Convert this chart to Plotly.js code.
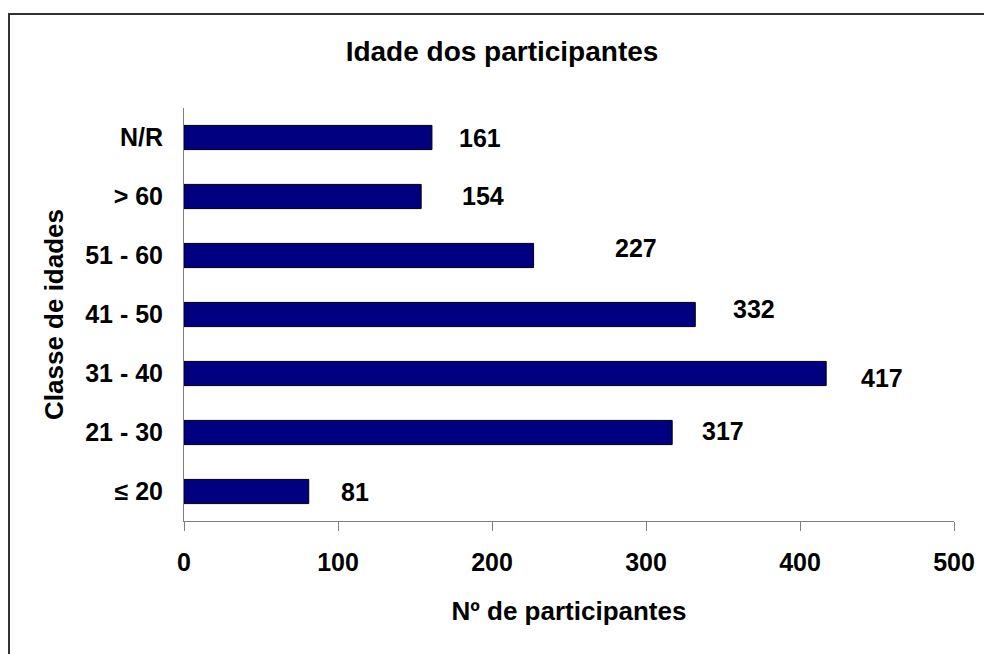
<!DOCTYPE html>
<html>
<head>
<meta charset="utf-8">
<script src="https://cdn.plot.ly/plotly-3.0.1.min.js"></script>
<style>
  html, body { margin: 0; padding: 0; background: #fff; }
  #chart { width: 984px; height: 654px; }
</style>
</head>
<body>
<div id="chart"></div>
<script>
// ---- data ----
const categories = ['≤ 20', '21 - 30', '31 - 40', '41 - 50', '51 - 60', '> 60', 'N/R'];
const participants = [81, 317, 417, 332, 227, 154, 161];
const xTickVals = [0, 100, 200, 300, 400, 500];
const xTickText = ['0', '100', '200', '300', '400', '500'];

// ---- label placement (style, pixels) ----
const labelShiftX = [46, 51, 56, 59, 102, 62, 48];
const labelShiftY = [0, 2, -4, 6, 8, 1, 0];

const W = 984, H = 654;
const M = { l: 184, r: 30, t: 108, b: 133 };
const plotW = W - M.l - M.r, plotH = H - M.t - M.b;
const px2paperX = px => (px - M.l) / plotW;
const px2paperY = py => (H - M.b - py) / plotH;

const FONT = 'Liberation Sans, Arial, sans-serif';

const trace = {
  type: 'bar',
  orientation: 'h',
  x: participants,
  y: categories,
  marker: { color: '#000080', line: { color: '#000000', width: 1 } },
  hoverinfo: 'x+y'
};

const annotations = participants.map((v, i) => ({
  x: v, y: categories[i], xref: 'x', yref: 'y',
  text: String(v), showarrow: false,
  xanchor: 'center', yanchor: 'middle',
  xshift: labelShiftX[i], yshift: labelShiftY[i],
  font: { family: FONT, size: 25, color: '#000', weight: 'bold' }
}));

// outer frame (only top & left edges visible in the picture)
const frame = {
  type: 'path', xref: 'paper', yref: 'paper',
  path: `M ${px2paperX(9)} ${px2paperY(H + 10)} L ${px2paperX(9)} ${px2paperY(14)} L ${px2paperX(W + 10)} ${px2paperY(14)}`,
  line: { color: '#333333', width: 2 }
};

const layout = {
  width: W, height: H,
  margin: M,
  paper_bgcolor: '#ffffff',
  plot_bgcolor: '#ffffff',
  showlegend: false,
  bargap: 0.59,
  font: { family: FONT, color: '#000' },
  title: {
    text: 'Idade dos participantes',
    x: 502 / W, xref: 'container', xanchor: 'center',
    y: 1 - 51 / H, yref: 'container', yanchor: 'middle',
    font: { family: FONT, size: 28, color: '#000', weight: 'bold' }
  },
  xaxis: {
    range: [0, 500],
    tickmode: 'array', tickvals: xTickVals, ticktext: xTickText,
    showline: true, linecolor: '#808080', linewidth: 1,
    ticks: 'outside', ticklen: 9, tickcolor: '#808080', tickwidth: 1,
    ticklabelstandoff: 10,
    showgrid: false, zeroline: false,
    tickfont: { family: FONT, size: 25, color: '#000', weight: 'bold' },
    automargin: false,
    title: {
      text: 'Nº de participantes', standoff: 26,
      font: { family: FONT, size: 26, color: '#000', weight: 'bold' }
    }
  },
  yaxis: {
    type: 'category',
    categoryorder: 'array', categoryarray: categories,
    range: [-0.5, categories.length - 0.5],
    showline: true, linecolor: '#808080', linewidth: 1,
    ticks: '', showgrid: false, zeroline: false,
    ticklabelstandoff: 15,
    tickfont: { family: FONT, size: 25, color: '#000', weight: 'bold' },
    automargin: false,
    title: {
      text: 'Classe de idades', standoff: 14,
      font: { family: FONT, size: 26, color: '#000', weight: 'bold' }
    }
  },
  annotations: annotations,
  shapes: [frame]
};

Plotly.newPlot('chart', [trace], layout, { displayModeBar: false, staticPlot: true });
</script>
</body>
</html>
